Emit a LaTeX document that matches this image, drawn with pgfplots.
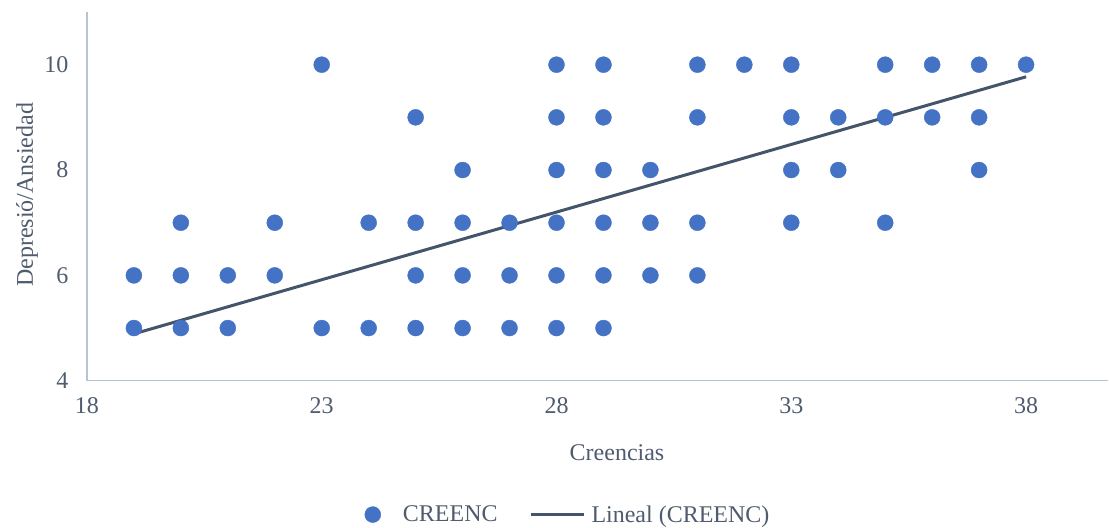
\documentclass[border=0pt]{standalone}
\usepackage{fontspec}
\setmainfont{Liberation Serif}
\usepackage{pgfplots}
\pgfplotsset{compat=1.18}
\definecolor{mk}{HTML}{4472C4}
\definecolor{tl}{HTML}{44546A}
\definecolor{txt}{HTML}{4F5B6E}
\definecolor{ax}{HTML}{B8C3D6}
\begin{document}
\begin{tikzpicture}
\begin{axis}[
  at={(0,0)}, anchor=south west,
  width=1022pt, height=369pt, scale only axis,
  xmin=18, xmax=39.75, ymin=4, ymax=11,
  xtick={18,23,28,33,38}, ytick={4,6,8,10},
  axis x line*=bottom, axis y line*=left,
  axis line style={ax, line width=1.5pt, -},
  major tick length=0pt,
  tick style={draw=none},
  /pgf/number format/assume math mode=true,
  ticklabel style={font=\fontsize{24}{28}\selectfont, text=txt},
  xticklabel style={yshift=-13pt},
  yticklabel style={xshift=-15pt},
  xlabel={Creencias},
  ylabel={Depresió/Ansiedad},
  label style={font=\fontsize{24}{28}\selectfont, text=txt},
  xlabel style={at={(axis description cs:0.519,-0.195)}, anchor=center},
  ylabel style={at={(axis description cs:-0.0587,0.504)}, anchor=center, rotate=0},
  legend style={at={(axis description cs:0.471,-0.363)}, anchor=center,
    draw=none, fill=none, legend columns=2,
    font=\fontsize{24}{28}\selectfont, text=txt,
    /tikz/every even column/.append style={column sep=30pt}},
  clip=false,
]
\addplot[only marks, mark=*, mark size=8pt, mark options={fill=mk, draw=mk}, forget plot] coordinates {
(19,6)(19,5)
(20,7)(20,6)(20,5)
(21,6)(21,5)
(22,7)(22,6)
(23,10)(23,5)
(24,7)(24,5)
(25,9)(25,7)(25,6)(25,5)
(26,8)(26,7)(26,6)(26,5)
(27,7)(27,6)(27,5)
(28,10)(28,9)(28,8)(28,7)(28,6)(28,5)
(29,10)(29,9)(29,8)(29,7)(29,6)(29,5)
(30,8)(30,7)(30,6)
(31,10)(31,9)(31,7)(31,6)
(32,10)
(33,10)(33,9)(33,8)(33,7)
(34,9)(34,8)
(35,10)(35,9)(35,7)
(36,10)(36,9)
(37,10)(37,9)(37,8)
(38,10)
};
\addplot[tl, line width=3pt, forget plot] coordinates {(19,4.89)(38,9.77)};
\addlegendimage{legend image code/.code={\fill[mk] (0pt,0pt) circle (8pt);}}
\addlegendentry{\hspace{20pt}CREENC}
\addlegendimage{legend image code/.code={\draw[tl, line width=3pt] (0pt,0pt) -- (53pt,0pt);}}
\addlegendentry{\hspace{4pt}Lineal (CREENC)}
\end{axis}
\path[use as bounding box] (-87pt,-146pt) rectangle (1022pt,381pt);
\end{tikzpicture}
\end{document}
